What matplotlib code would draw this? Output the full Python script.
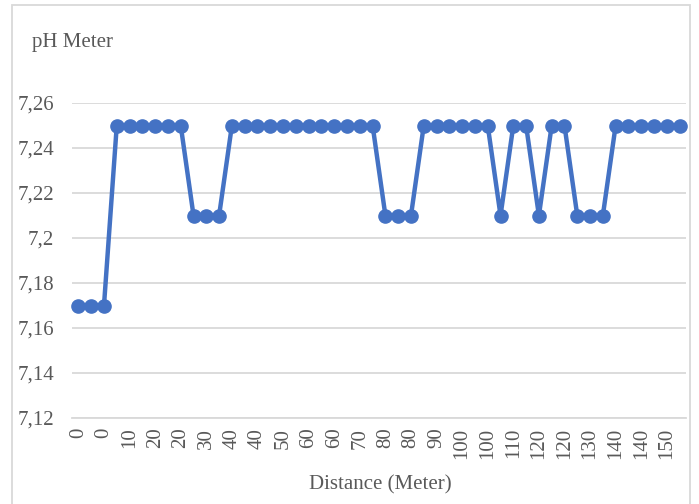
import matplotlib
matplotlib.use('Agg')
from matplotlib import pyplot as plt
from matplotlib.patches import Rectangle

# pH readings along the distance (one per category)
ph_values = [7.17, 7.17, 7.17,
             7.25, 7.25, 7.25, 7.25, 7.25, 7.25,
             7.21, 7.21, 7.21,
             7.25, 7.25, 7.25, 7.25, 7.25, 7.25, 7.25, 7.25, 7.25, 7.25, 7.25, 7.25,
             7.21, 7.21, 7.21,
             7.25, 7.25, 7.25, 7.25, 7.25, 7.25,
             7.21,
             7.25, 7.25,
             7.21,
             7.25, 7.25,
             7.21, 7.21, 7.21,
             7.25, 7.25, 7.25, 7.25, 7.25, 7.25]

# labels shown on the axis (every second category)
tick_labels = ['0', '0', '10', '20', '20', '30', '40', '40', '50', '60', '60', '70',
               '80', '80', '90', '100', '100', '110', '120', '120', '130', '140', '140', '150']

y_ticks = [7.12, 7.14, 7.16, 7.18, 7.2, 7.22, 7.24, 7.26]
y_tick_labels = ['7,12', '7,14', '7,16', '7,18', '7,2', '7,22', '7,24', '7,26']

txt_color = '#595959'
grid_color = '#d9d9d9'
line_color = '#4472c4'

plt.rcParams['font.family'] = ['Liberation Serif', 'DejaVu Serif']

fig = plt.figure(figsize=(6.99, 5.04), dpi=100)
fig.patches.append(Rectangle((12 / 699, -0.05), (690 - 12) / 699, 1.05 - 5 / 504,
                             transform=fig.transFigure, fill=False,
                             edgecolor=grid_color, linewidth=1.3))

ax = fig.add_axes([72 / 699, 1 - 418 / 504, (686 - 72) / 699, (418 - 103) / 504])

x = list(range(len(ph_values)))
ax.plot(x, ph_values, color=line_color, linewidth=3.2, marker='o',
        markersize=9.5, clip_on=False, zorder=3)

ax.set_xlim(-0.5, len(ph_values) - 0.5)
ax.set_ylim(7.12, 7.26)
ax.set_yticks(y_ticks)
ax.set_yticklabels(y_tick_labels)
ax.set_xticks(list(range(0, len(ph_values), 2)))
ax.set_xticklabels(tick_labels, rotation=90)

ax.tick_params(axis='both', length=0, labelsize=15, labelcolor=txt_color)
ax.tick_params(axis='y', pad=13)
ax.tick_params(axis='x', pad=7)

ax.grid(axis='y', color=grid_color, linewidth=1.3)
ax.set_axisbelow(True)
for side in ['top', 'right', 'left']:
    ax.spines[side].set_visible(False)
ax.spines['bottom'].set_color(grid_color)
ax.spines['bottom'].set_linewidth(1.3)

fig.text(32 / 699, 1 - 43 / 504, 'pH Meter', fontsize=15, color=txt_color,
         va='center', ha='left')
fig.text(380 / 699, 1 - 485 / 504, 'Distance (Meter)', fontsize=15,
         color=txt_color, va='center', ha='center')

fig.savefig('out.png', dpi=100)
